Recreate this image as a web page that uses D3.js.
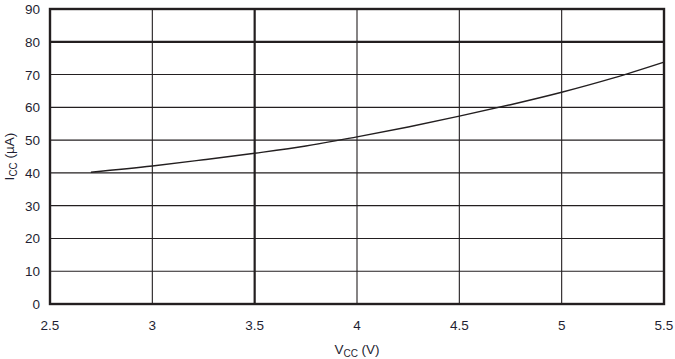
<!DOCTYPE html>
<html><head><meta charset="utf-8">
<script src="https://cdn.jsdelivr.net/npm/d3@7"></script>
<style>body{margin:0;background:#fff}text{font-family:"Liberation Sans",Arial,sans-serif}</style>
</head><body><svg id="c" width="675" height="359"></svg>
<script>
const vcc = [2.7, 3.0, 3.25, 3.5, 3.75, 4.0, 4.25, 4.5, 4.75, 5.0, 5.25, 5.5];
const icc = [40.2, 42.1, 44.0, 46.0, 48.2, 51.0, 54.0, 57.3, 60.8, 64.6, 68.9, 73.8];
const xTicks = [2.5, 3, 3.5, 4, 4.5, 5, 5.5];
const yTicks = [0, 10, 20, 30, 40, 50, 60, 70, 80, 90];
const xTickLabels = ["2.5", "3", "3.5", "4", "4.5", "5", "5.5"];

const svg = d3.select("#c");
const L = 50, R = 664, T = 9, B = 304;
const x = d3.scaleLinear().domain([2.5, 5.5]).range([L, R]);
const y = d3.scaleLinear().domain([0, 90]).range([B, T]);
const ink = "#231f20";

// grid
svg.append("g").selectAll("line").data(yTicks.filter(d => d > 0 && d < 90)).join("line")
  .attr("x1", L).attr("x2", R).attr("y1", d => y(d)).attr("y2", d => y(d))
  .attr("stroke", ink).attr("stroke-width", d => d === 80 ? 2.2 : 1.1);
svg.append("g").selectAll("line").data(xTicks.filter(d => d > 2.5 && d < 5.5)).join("line")
  .attr("y1", T).attr("y2", B).attr("x1", d => x(d)).attr("x2", d => x(d))
  .attr("stroke", ink).attr("stroke-width", d => d === 3.5 ? 2.2 : 1.1);

// frame
svg.append("rect").attr("x", L).attr("y", T).attr("width", R - L).attr("height", B - T)
  .attr("fill", "none").attr("stroke", ink).attr("stroke-width", 2.4);

// curve
svg.append("path").datum(vcc.map((v, i) => [v, icc[i]]))
  .attr("d", d3.line().x(d => x(d[0])).y(d => y(d[1])).curve(d3.curveMonotoneX))
  .attr("fill", "none").attr("stroke", ink).attr("stroke-width", 1.4);

// tick labels
svg.append("g").selectAll("text").data(yTicks).join("text")
  .attr("x", 40).attr("y", d => y(d) + 5).attr("text-anchor", "end")
  .attr("font-size", 13.5).attr("fill", "#1f1f33").text(d => d);
svg.append("g").selectAll("text").data(xTicks).join("text")
  .attr("x", d => x(d)).attr("y", 330).attr("text-anchor", "middle")
  .attr("font-size", 13.5).attr("fill", "#1f1f33").text((d, i) => xTickLabels[i]);

// axis titles
const xt = svg.append("text").attr("x", x(4)).attr("y", 354).attr("text-anchor", "middle")
  .attr("font-size", 13.5).attr("fill", "#1f1f33");
xt.append("tspan").text("V");
xt.append("tspan").attr("font-size", 10).attr("dy", 3).text("CC");
xt.append("tspan").attr("dy", -3).text(" (V)");

const yt = svg.append("text").attr("transform", `translate(14,${y(45)}) rotate(-90)`)
  .attr("text-anchor", "middle").attr("font-size", 13.5).attr("fill", "#1f1f33");
yt.append("tspan").text("I");
yt.append("tspan").attr("font-size", 10).attr("dy", 3).text("CC");
yt.append("tspan").attr("dy", -3).text(" (µA)");
</script></body></html>
